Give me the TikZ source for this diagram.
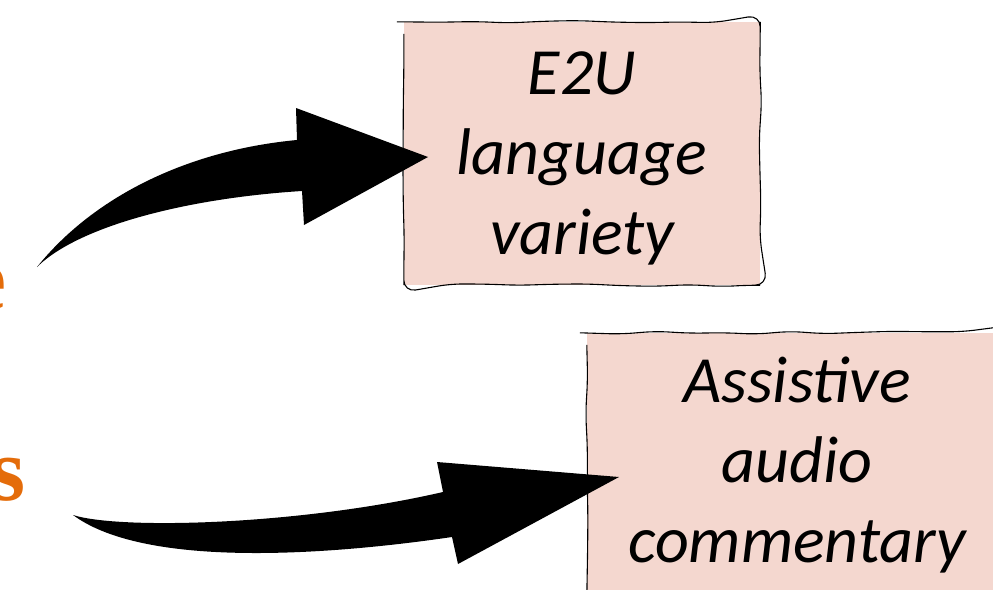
\documentclass[tikz,border=0pt]{standalone}
\usepackage{fontspec}
\setmainfont{Carlito}
\newfontfamily\headfont{Liberation Serif}
\usepackage{tikz}
\usetikzlibrary{arrows,shapes,positioning,decorations.pathmorphing}
\usepackage{xcolor}
\definecolor{boxpink}{RGB}{244,215,207}
\definecolor{wordorange}{RGB}{228,108,10}

\begin{document}
\begin{tikzpicture}[x=1pt,y=-1pt,align=center,
					box node/.style={fill=boxpink,inner sep=0pt},
					box text/.style={inner sep=0pt,font=\fontsize{66}{80}\selectfont\itshape},
					sketch line/.style={line width=1.1pt,decorate,rounded corners=12pt,
						decoration={random steps,segment length=34pt,amplitude=1.6pt}},
					swoosh/.style={fill=black},
					word node/.style={inner sep=0pt,text=wordorange,font=\fontsize{90}{90}\headfont\bfseries}]
					\pgfmathsetseed{11}
					\useasboundingbox (0,0) rectangle (993,589);
					\clip (0,0) rectangle (993,589);
					
					\node[word node,anchor=base east] (w1) at (7,309) {e};
					\node[word node,anchor=base east] (w2) at (26,500) {s};
					
					\node[box node,minimum width=356pt,minimum height=263pt] (b1) at (582,153.5) {};
					\node[box node,minimum width=420pt,minimum height=276pt] (b2) at (797,471) {};
					\draw[sketch line] (b1.north west) rectangle (b1.south east);
					\draw[sketch line] (b2.north west) rectangle (b2.south east);
					
					\node[box text] (1) at ([yshift=-5pt]b1.center) {E2U\\language\\variety};
					\node[box text] (2) at (797,465) {Assistive\\audio\\commentary};
					
					\coordinate (t1) at (37,267);
					\coordinate (h1) at (428,157);
					\coordinate (t2) at (73,515);
					\coordinate (h2) at (619,477);
					
					\fill[swoosh] (t1) .. controls (95,195) and (190,150) .. (297,140) -- (296,108) -- (h1)
						-- (304,225) -- (302,191) .. controls (190,198) and (80,225) .. (t1) -- cycle;
					\fill[swoosh] (t2) .. controls (120,530) and (300,525) .. (443,492) -- (437,462) -- (h2)
						-- (458,564) -- (452,537) .. controls (350,552) and (150,572) .. (t2) -- cycle;
					    
				\end{tikzpicture}
\end{document}
